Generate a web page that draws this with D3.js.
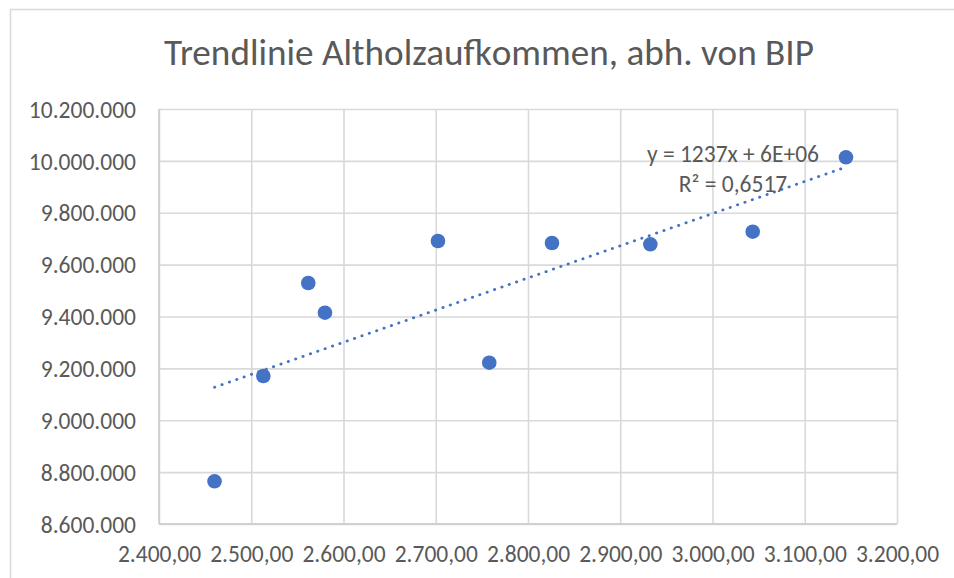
<!DOCTYPE html>
<html>
<head>
<meta charset="utf-8">
<script src="https://cdn.jsdelivr.net/npm/d3@7"></script>
<style>
  html, body { margin: 0; padding: 0; background: #fff; }
  svg { display: block; }
  text { font-family: Calibri, Carlito, Lato, sans-serif; fill: #595959; }
</style>
</head>
<body>
<svg id="chart" width="954" height="578"></svg>
<script>
// ---- data ----
const bip = [2460.2, 2513.1, 2561.8, 2579.9, 2702.4, 2758.0, 2826.0, 2932.6, 3043.6, 3144.7];
const altholz = [8764600, 9170600, 9529200, 9414650, 9691100, 9221900, 9683400, 9678400, 9726900, 10013800];
const xTicks = [2400, 2500, 2600, 2700, 2800, 2900, 3000, 3100, 3200];
const yTicks = [8600000, 8800000, 9000000, 9200000, 9400000, 9600000, 9800000, 10000000, 10200000];
const titleText = "Trendlinie Altholzaufkommen, abh. von BIP";
const trendLabels = ["y = 1237x + 6E+06", "R² = 0,6517"];

// ---- setup ----
const svg = d3.select("#chart");
const W = 954, H = 578;
const m = { left: 159, right: 897, top: 109, bottom: 524 };
const color = "#4472C4";
const grid = "#d9d9d9";

const de = d3.formatLocale({ decimal: ",", thousands: ".", grouping: [3], currency: ["", " €"] });
const fx = de.format(",.2f");
const fy = de.format(",.0f");

svg.append("rect").attr("width", W).attr("height", H).attr("fill", "#fff");
// outer chart border (right/bottom run off the picture)
svg.append("rect").attr("x", 10.5).attr("y", 9.5).attr("width", 960).attr("height", 620)
  .attr("fill", "none").attr("stroke", grid).attr("stroke-width", 1.5);

const x = d3.scaleLinear().domain([xTicks[0], xTicks[xTicks.length - 1]]).range([m.left, m.right]);
const y = d3.scaleLinear().domain([yTicks[0], yTicks[yTicks.length - 1]]).range([m.bottom, m.top]);

// gridlines via axes
const gx = svg.append("g").attr("transform", `translate(0,${m.bottom})`)
  .call(d3.axisBottom(x).tickValues(xTicks).tickSize(-(m.bottom - m.top)).tickFormat(fx));
const gy = svg.append("g").attr("transform", `translate(${m.left},0)`)
  .call(d3.axisLeft(y).tickValues(yTicks).tickSize(-(m.right - m.left)).tickFormat(fy));

[gx, gy].forEach(g => {
  g.select(".domain").remove();
  g.selectAll(".tick line").attr("stroke", grid).attr("stroke-width", 1.6);
  g.selectAll(".tick text").attr("fill", "#595959").style("font-size", "23.5px")
    .style("font-family", "Calibri, Carlito, Lato, sans-serif");
});
gx.selectAll(".tick text").attr("y", 38).attr("dy", 0);
gy.selectAll(".tick text").attr("x", -23).attr("dy", "0.35em");
// axis lines (left & bottom) slightly stronger
svg.append("line").attr("x1", m.left).attr("x2", m.right).attr("y1", m.bottom).attr("y2", m.bottom)
  .attr("stroke", "#d0d0d0").attr("stroke-width", 1.8);
svg.append("line").attr("x1", m.left).attr("x2", m.left).attr("y1", m.top).attr("y2", m.bottom)
  .attr("stroke", "#d0d0d0").attr("stroke-width", 1.8);

// ---- linear trend (least squares) ----
const mx = d3.mean(bip), my = d3.mean(altholz);
let sxy = 0, sxx = 0;
bip.forEach((v, i) => { sxy += (v - mx) * (altholz[i] - my); sxx += (v - mx) * (v - mx); });
const slope = sxy / sxx, icpt = my - slope * mx;
const [x0, x1] = d3.extent(bip);
svg.append("line")
  .attr("x1", x(x0)).attr("y1", y(icpt + slope * x0))
  .attr("x2", x(x1)).attr("y2", y(icpt + slope * x1))
  .attr("stroke", color).attr("stroke-width", 2.8)
  .attr("stroke-linecap", "round").attr("stroke-dasharray", "0.3 7.5");

// ---- points ----
svg.append("g").selectAll("circle").data(bip).join("circle")
  .attr("cx", d => x(d)).attr("cy", (d, i) => y(altholz[i]))
  .attr("r", 7.3).attr("fill", color);

// ---- trend label ----
svg.append("g").selectAll("text").data(trendLabels).join("text")
  .attr("x", 733).attr("y", (d, i) => 162 + i * 29.5)
  .attr("text-anchor", "middle").style("font-size", "23.5px").text(d => d);

// ---- title ----
svg.append("text").attr("x", 489).attr("y", 65).attr("text-anchor", "middle")
  .style("font-size", "37.2px").text(titleText);
</script>
</body>
</html>
